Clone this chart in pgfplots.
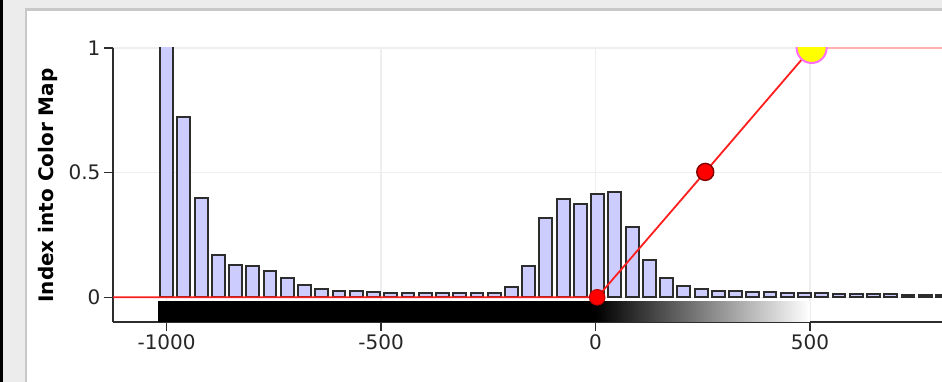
\documentclass[border=0pt]{standalone}
\usepackage{fontspec}
\setmainfont{DejaVu Sans}
\usepackage{pgfplots}
\pgfplotsset{compat=1.18}
\definecolor{barfill}{RGB}{204,204,255}
\definecolor{baredge}{RGB}{45,45,45}
\definecolor{panelgray}{RGB}{236,236,236}
\definecolor{panelline}{RGB}{200,200,200}
\definecolor{tfred}{RGB}{255,30,30}
\definecolor{gridgray}{RGB}{238,238,238}
\definecolor{yelpt}{RGB}{255,255,0}
\definecolor{yeledge}{RGB}{255,110,255}
\begin{document}
\begin{tikzpicture}[x=1pt,y=1pt]
\useasboundingbox (0,0) rectangle (942,382);
\clip (0,0) rectangle (942,382);
\fill[panelgray] (0,0) rectangle (942,382);
\fill[black] (0,0) rectangle (2.5,382);
\fill[panelline] (25,0) rectangle (942,373.6);
\fill[white] (26.7,0) rectangle (942,371.4);
\node[rotate=90, anchor=base, inner sep=0pt, font=\bfseries\fontsize{20}{24}\selectfont] at (53.3,196.5) {Index into Color Map};
\begin{axis}[
  at={(113pt,60pt)}, anchor=south west,
  width=829pt, height=274pt, scale only axis,
  xmin=-1125, xmax=808, ymin=-0.099, ymax=1,
  axis lines=left,
  axis line style={-, draw=baredge, line width=1.6pt},
  xtick={-1000,-500,0,500}, xticklabels={-1000,-500,0,500},
  ytick={0,0.5,1}, yticklabels={0,0.5,1},
  tick align=outside, major tick length=9pt,
  tick style={draw=baredge, line width=1.4pt},
  tick label style={font=\fontsize{20}{24}\selectfont, text=black!85},
  grid=major, grid style={gridgray, line width=1.5pt},
  clip marker paths=true,
]
\addplot[ybar, bar width=30, bar shift=0pt, fill=barfill, draw=baredge, line width=2pt] coordinates {
(-1000,1.2) (-959.8,0.723) (-919.6,0.399) (-879.4,0.171) (-839.2,0.130)
(-799,0.125) (-758.8,0.104) (-718.6,0.076) (-678.4,0.050) (-638.2,0.035)
(-598,0.027) (-557.8,0.025) (-517.6,0.021) (-477.4,0.018) (-437.2,0.017)
(-397,0.017) (-356.8,0.017) (-316.6,0.017) (-276.4,0.017) (-236.2,0.018)
(-196,0.041) (-155.8,0.127) (-115.6,0.317) (-75.4,0.394) (-35.2,0.376)
(5,0.415) (45.2,0.424) (85.4,0.284) (125.6,0.151) (165.8,0.077)
(206,0.045) (246.2,0.033) (286.4,0.027) (326.6,0.026) (366.8,0.022)
(407,0.020) (447.2,0.018) (487.4,0.017) (527.6,0.016) (567.8,0.015)
(608,0.014) (648.2,0.013) (688.4,0.012) (728.6,0.011) (768.8,0.010)
(809,0.010)
};
\addplot[fill=black, draw=none] coordinates {(-1021,-0.099) (2,-0.099) (2,-0.016) (-1021,-0.016)} -- cycle;
\addplot[draw=none, left color=black, right color=white] coordinates {(0,-0.099) (500,-0.099) (500,-0.016) (0,-0.016)} -- cycle;
\addplot[tfred, line width=1.8pt] coordinates {(-1125,0) (4,0) (256,0.503) (504,1)};
\addplot[red!30, line width=1.2pt] coordinates {(504,1) (808,1)};
\addplot[only marks, mark=*, mark size=7.8pt, mark options={fill=red, draw=red!75!black, line width=1pt}] coordinates {(4,0)};
\addplot[only marks, mark=*, mark size=8.5pt, mark options={fill=red, draw=red!50!black, line width=1.4pt}] coordinates {(256,0.503)};
\addplot[only marks, mark=*, mark size=15pt, mark options={fill=yelpt, draw=yeledge, line width=2pt}] coordinates {(504,1)};
\end{axis}
\end{tikzpicture}
\end{document}
